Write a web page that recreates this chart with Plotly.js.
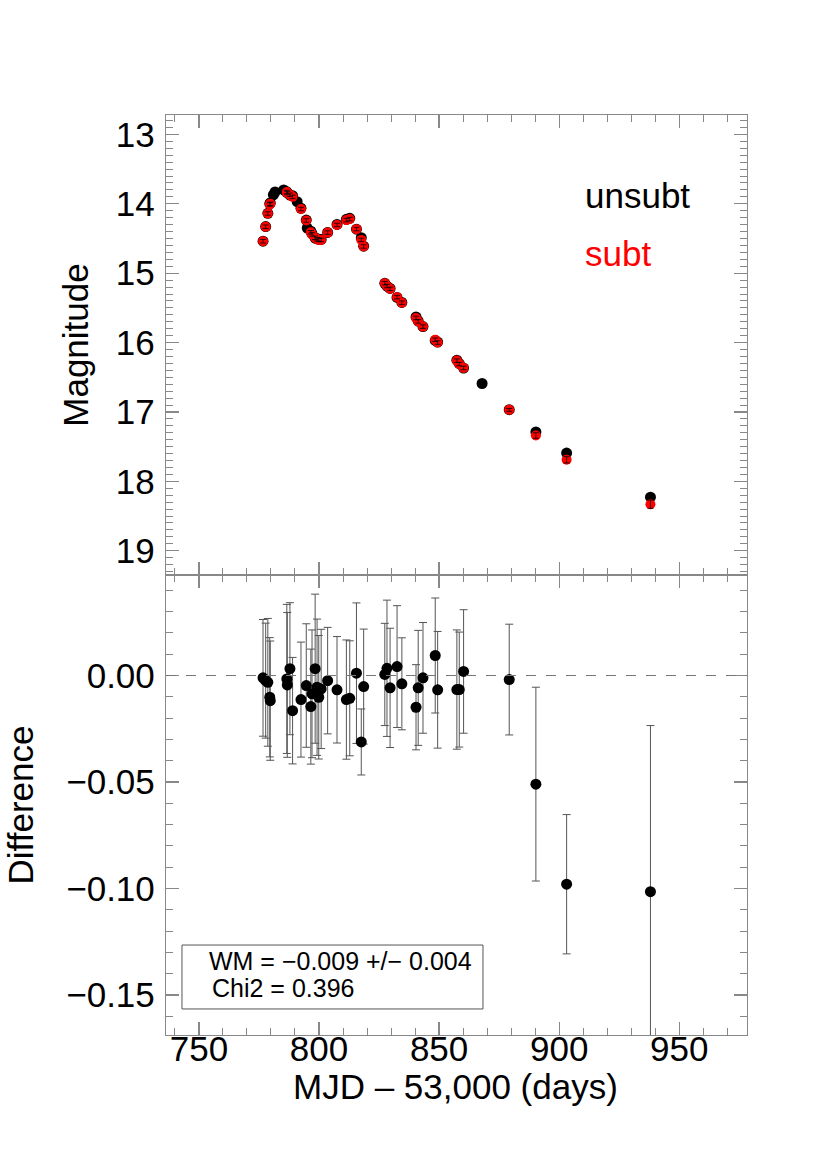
<!DOCTYPE html>
<html>
<head>
<meta charset="utf-8">
<script src="https://cdn.plot.ly/plotly-3.0.1.min.js"></script>
<style>
  html, body { margin: 0; padding: 0; background: #fff; }
  #chart { width: 830px; height: 1150px; }
</style>
</head>
<body>
<div id="chart"></div>
<script>
// ---- Data (MJD - 53,000 in days) ----
// Epochs that have both unsubtracted and subtracted photometry
const sDays = [
  776.7, 777.8, 778.7, 779.5, 779.7,
  786.6, 786.8, 787.9, 789.0,
  792.5, 794.7, 796.6, 797.1, 798.4, 799.2, 799.9, 800.9,
  803.6, 807.5, 811.4, 812.8, 815.6, 817.6, 818.6,
  827.4, 828.3, 829.6, 832.5, 834.5,
  840.4, 841.3, 843.3, 848.4, 849.4,
  857.4, 858.4, 860.2,
  879.2, 890.3, 903.1, 938.0
];
// Subtracted magnitudes (red)
const subtMag = [
  14.54, 14.33, 14.14, 14.01, 14.00,
  13.83, 13.845, 13.87, 13.90,
  14.075, 14.24, 14.41, 14.44, 14.49, 14.51, 14.52, 14.52,
  14.415, 14.305, 14.235, 14.22, 14.365, 14.52, 14.615,
  15.145, 15.185, 15.225, 15.345, 15.425,
  15.645, 15.695, 15.77, 15.96, 16.00,
  16.26, 16.31, 16.365,
  16.97, 17.34, 17.69, 18.33
];
const subtErr = [
  0.025, 0.025, 0.025, 0.025, 0.025,
  0.025, 0.025, 0.025, 0.025,
  0.025, 0.025, 0.025, 0.025, 0.025, 0.025, 0.025, 0.025,
  0.025, 0.025, 0.025, 0.025, 0.025, 0.025, 0.025,
  0.025, 0.025, 0.025, 0.025, 0.025,
  0.025, 0.025, 0.025, 0.025, 0.025,
  0.025, 0.025, 0.025,
  0.02, 0.04, 0.045, 0.06
];
// Unsubtracted magnitudes (black) at the same epochs
const unsubtMag = [
  14.539, 14.328, 14.137, 14.000, 13.988,
  13.828, 13.841, 13.873, 13.884,
  14.064, 14.235, 14.395, 14.431, 14.493, 14.505, 14.510, 14.514,
  14.413, 14.298, 14.224, 14.209, 14.366, 14.489, 14.610,
  15.146, 15.188, 15.219, 15.349, 15.421,
  15.630, 15.689, 15.769, 15.969, 15.993,
  16.253, 16.303, 16.367,
  16.968, 17.289, 17.592, 18.229
];
// Epochs with unsubtracted photometry only
const uOnlyDays = [781.0, 781.7, 785.3, 790.9, 795.1, 867.9];
const uOnlyMag  = [13.87, 13.83, 13.80, 13.97, 14.35, 16.59];

// Difference (unsubt - subt) and its error
const diffVal = [
  -0.0011, -0.0024, -0.0032, -0.0102, -0.0118,
  -0.0016, -0.0044, 0.0032, -0.0165,
  -0.0113, -0.0047, -0.0146, -0.0086, 0.0032, -0.0055, -0.0102, -0.0063,
  -0.0024, -0.0067, -0.0113, -0.0107, 0.0011, -0.0312, -0.0052,
  0.0005, 0.0034, -0.0058, 0.0042, -0.0039,
  -0.0149, -0.0058, -0.0011, 0.0094, -0.0067,
  -0.0066, -0.0066, 0.0019,
  -0.0019, -0.0510, -0.0980, -0.1015
];
const diffErr = [
  0.0274, 0.027, 0.030, 0.028, 0.028,
  0.035, 0.034, 0.031, 0.025,
  0.027, 0.029, 0.027, 0.030, 0.035, 0.032, 0.029, 0.028,
  0.025, 0.025, 0.028, 0.027, 0.033, 0.0155, 0.027,
  0.024, 0.032, 0.028, 0.0286, 0.0216,
  0.020, 0.027, 0.026, 0.027, 0.0274,
  0.028, 0.027, 0.029,
  0.026, 0.0455, 0.0327, 0.078
];

const legendLabels = ['unsubt', 'subt'];
const boxLines = ['WM = \u22120.009 +/\u2212 0.004', 'Chi2 = 0.396'];
const xTitle = 'MJD \u2013 53,000 (days)';

// ---- Styling ----
const FONT = 'Liberation Sans, Arial, Helvetica, sans-serif';
const AX = '#888888';
const MS = 11;

const traces = [
  { // unsubt (black), top panel
    x: sDays.concat(uOnlyDays), y: unsubtMag.concat(uOnlyMag),
    xaxis: 'x', yaxis: 'y', type: 'scatter', mode: 'markers',
    marker: { color: '#000000', size: MS }, showlegend: false
  },
  { // subt (red), top panel
    x: sDays, y: subtMag,
    xaxis: 'x', yaxis: 'y', type: 'scatter', mode: 'markers',
    marker: { color: '#ff0000', size: MS - 1 }, showlegend: false
  },
  { // subt error bars drawn over the red dots
    x: sDays, y: subtMag,
    xaxis: 'x', yaxis: 'y', type: 'scatter', mode: 'markers',
    marker: { color: 'rgba(0,0,0,0)', size: 1 },
    error_y: { type: 'data', array: subtErr, visible: true, color: '#000000', thickness: 0.8, width: 3 },
    showlegend: false, hoverinfo: 'skip'
  },
  { // difference, bottom panel
    x: sDays, y: diffVal,
    xaxis: 'x2', yaxis: 'y2', type: 'scatter', mode: 'markers',
    marker: { color: '#000000', size: MS },
    error_y: { type: 'data', array: diffErr, visible: true, color: '#555555', thickness: 1, width: 4 },
    showlegend: false
  }
];

const commonAxis = {
  showline: true, linecolor: AX, linewidth: 1.2, mirror: 'allticks',
  ticks: 'inside', tickcolor: AX, tickwidth: 1.2, ticklen: 13,
  showgrid: false, zeroline: false,
  tickfont: { family: FONT, size: 35, color: '#000' }
};

const layout = {
  width: 830, height: 1150,
  margin: { l: 166, r: 83, t: 115, b: 115 },
  paper_bgcolor: '#ffffff', plot_bgcolor: '#ffffff',
  showlegend: false,
  font: { family: FONT, color: '#000' },
  xaxis: Object.assign({}, commonAxis, {
    anchor: 'y', matches: 'x2', range: [736.3, 978.2],
    tick0: 750, dtick: 50, showticklabels: false,
    minor: { dtick: 10, ticks: 'inside', ticklen: 7, tickcolor: AX, tickwidth: 1 }
  }),
  yaxis: Object.assign({}, commonAxis, {
    domain: [0.5, 1], anchor: 'x', range: [19.35, 12.72],
    tick0: 13, dtick: 1, ticklabelstandoff: 3,
    minor: { dtick: 0.1, ticks: 'inside', ticklen: 7, tickcolor: AX, tickwidth: 1 },
    title: { text: 'Magnitude', font: { family: FONT, size: 35, color: '#000' }, standoff: 16 }
  }),
  xaxis2: Object.assign({}, commonAxis, {
    anchor: 'y2', range: [736.3, 978.2],
    tick0: 750, dtick: 50, ticklabelstandoff: -17,
    minor: { dtick: 10, ticks: 'inside', ticklen: 7, tickcolor: AX, tickwidth: 1 }
  }),
  yaxis2: Object.assign({}, commonAxis, {
    domain: [0, 0.5], anchor: 'x2', range: [-0.1688, 0.0472],
    tick0: 0, dtick: 0.05, tickformat: '.2f', ticklabelstandoff: 3,
    minor: { dtick: 0.01, ticks: 'inside', ticklen: 7, tickcolor: AX, tickwidth: 1 },
    title: { text: 'Difference', font: { family: FONT, size: 35, color: '#000' }, standoff: 22 }
  }),
  shapes: [
    { type: 'line', xref: 'x2 domain', yref: 'y2', x0: 0, x1: 1, y0: 0, y1: 0,
      line: { color: '#777777', width: 1.2, dash: '10px,10px' } },
    { type: 'rect', xref: 'paper', yref: 'paper', x0: 0.0275, x1: 0.5456, y0: 0.0283, y1: 0.0978,
      line: { color: '#555555', width: 1 }, fillcolor: 'rgba(0,0,0,0)' }
  ],
  annotations: [
    { xref: 'paper', yref: 'paper', x: 0.499, y: -0.0565, xanchor: 'center', yanchor: 'middle',
      text: xTitle, showarrow: false, font: { family: FONT, size: 35, color: '#000000' } },
    { xref: 'paper', yref: 'paper', x: 0.7177, y: 0.913, xanchor: 'left', yanchor: 'middle',
      text: legendLabels[0], showarrow: false, font: { family: FONT, size: 35, color: '#000000' } },
    { xref: 'paper', yref: 'paper', x: 0.7177, y: 0.849, xanchor: 'left', yanchor: 'middle',
      text: legendLabels[1], showarrow: false, font: { family: FONT, size: 35, color: '#ff0000' } },
    { xref: 'paper', yref: 'paper', x: 0.071, y: 0.0804, xanchor: 'left', yanchor: 'middle',
      text: boxLines[0], showarrow: false, font: { family: FONT, size: 25, color: '#000000' } },
    { xref: 'paper', yref: 'paper', x: 0.0757, y: 0.051, xanchor: 'left', yanchor: 'middle',
      text: boxLines[1], showarrow: false, font: { family: FONT, size: 25, color: '#000000' } }
  ]
};

Plotly.newPlot('chart', traces, layout, { displayModeBar: false, staticPlot: true });
</script>
</body>
</html>
